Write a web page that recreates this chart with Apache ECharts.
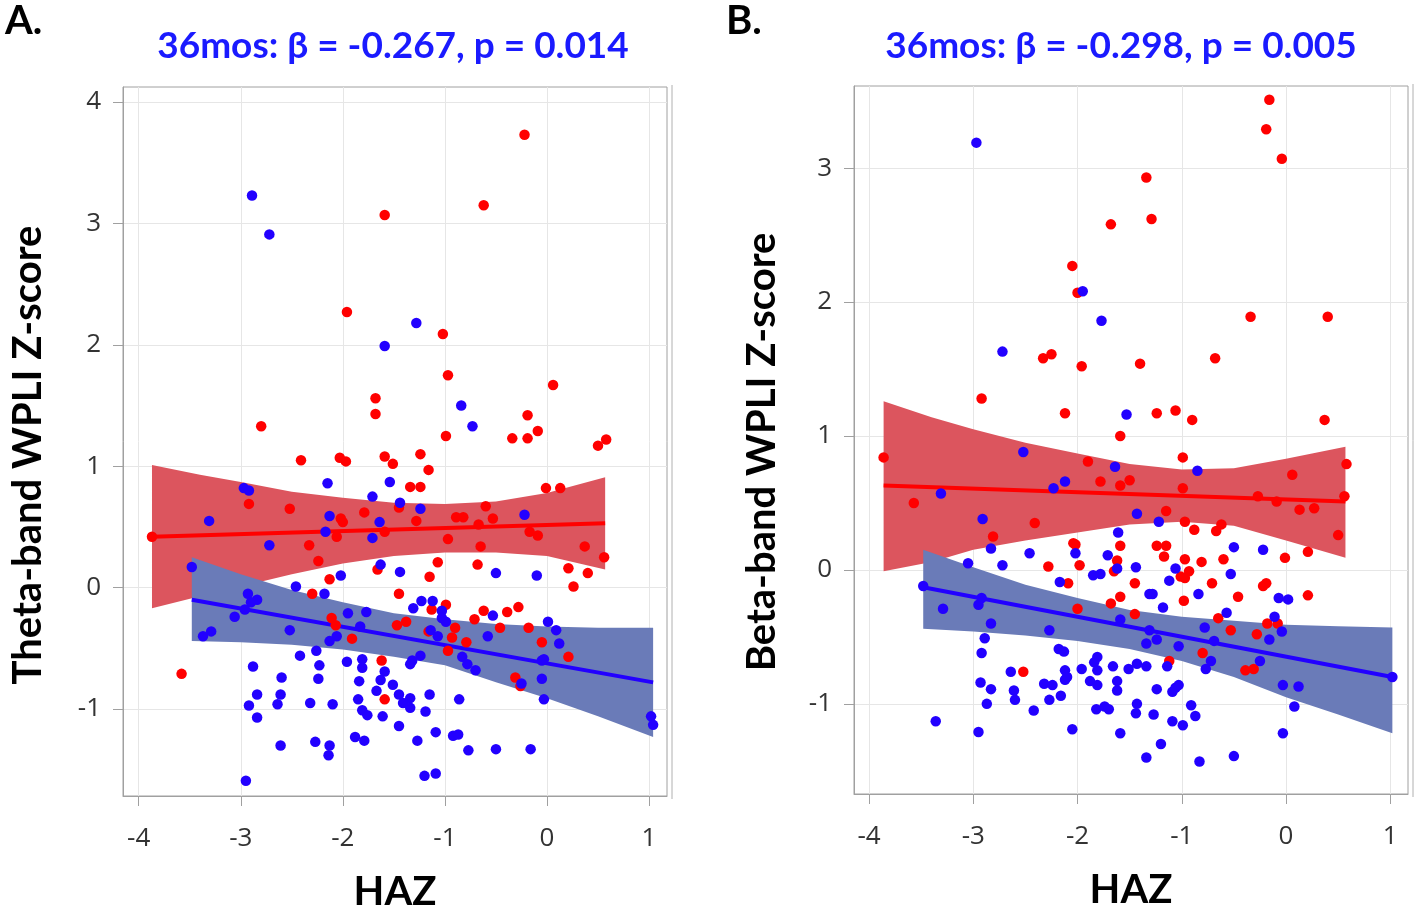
<!DOCTYPE html>
<html>
<head>
<meta charset="utf-8">
<script src="https://cdn.jsdelivr.net/npm/echarts@6/dist/echarts.min.js"></script>
<style>
html,body{margin:0;padding:0;background:#fff;}
#chart{width:1418px;height:910px;}
</style>
</head>
<body>
<div id="chart"></div>
<script>
// ---------- tick labels ----------
const xTicks = [-4, -3, -2, -1, 0, 1];
const yTicksA = [-1, 0, 1, 2, 3, 4];
const yTicksB = [-1, 0, 1, 2, 3];

// ---------- Panel A (theta) points ----------
const redA = [
 [-1.59,3.07],[-1.96,2.27],[-1.68,1.56],[-1.68,1.43],[-2.80,1.33],
 [-0.22,3.73],[-0.62,3.15],[-1.02,2.09],[-0.97,1.75],[0.06,1.67],[-0.19,1.42],[-0.09,1.29],[-0.99,1.25],[-0.34,1.23],[-0.19,1.23],[0.50,1.17],[0.58,1.22],
 [-2.41,1.05],[-2.03,1.07],[-1.97,1.04],[-1.59,1.08],[-1.51,1.02],
 [-2.92,0.69],[-2.52,0.65],[-1.79,0.62],[-1.45,0.66],[-2.02,0.57],[-2.00,0.54],[-3.87,0.42],[-2.06,0.42],[-1.59,0.46],[-2.33,0.35],[-2.24,0.22],[-1.66,0.15],[-2.13,0.07],[-2.30,-0.05],[-1.45,-0.05],[-2.11,-0.25],[-2.07,-0.31],[-1.47,-0.31],[-1.91,-0.42],[-1.62,-0.60],[-3.58,-0.71],[-1.59,-0.92],
 [-1.24,1.10],[-1.16,0.97],[-1.34,0.83],[-1.24,0.83],[-1.28,0.55],[-0.01,0.82],[0.13,0.82],[-0.60,0.67],[-0.89,0.58],[-0.82,0.58],[-0.53,0.57],[-0.67,0.52],[-0.17,0.46],[-0.09,0.43],[-0.97,0.40],[-0.65,0.34],[0.37,0.34],[0.56,0.25],[-1.07,0.21],[-0.68,0.19],[0.21,0.16],[0.40,0.12],[-1.15,0.09],[0.26,0.01],[-1.13,-0.18],[-0.99,-0.14],[-0.62,-0.19],[-0.39,-0.20],[-0.28,-0.16],[-0.71,-0.26],[-0.46,-0.33],[-0.18,-0.33],[-1.38,-0.28],[-1.16,-0.36],[-0.90,-0.33],[-0.93,-0.41],[-0.79,-0.45],[-0.97,-0.52],[-0.05,-0.45],[0.21,-0.57],[-0.31,-0.74],[-0.26,-0.81]
];
const blueA = [
 [-2.89,3.23],[-2.72,2.91],[-1.59,1.99],[-1.28,2.18],[-0.84,1.50],[-0.73,1.33],
 [-2.15,0.86],[-1.54,0.87],[-1.71,0.75],[-1.44,0.70],[-2.97,0.82],[-2.92,0.80],[-2.13,0.59],[-1.64,0.54],[-3.31,0.55],[-2.17,0.46],[-1.71,0.41],[-2.72,0.35],[-1.63,0.19],[-1.44,0.13],[-3.48,0.17],[-2.02,0.10],[-2.46,0.01],[-2.18,-0.05],[-2.93,-0.05],[-2.84,-0.10],[-2.90,-0.12],[-2.96,-0.18],[-3.06,-0.24],[-3.29,-0.36],[-3.37,-0.40],[-2.52,-0.35],[-1.95,-0.21],[-1.77,-0.20],[-1.83,-0.32],[-2.06,-0.40],[-2.13,-0.44],[-2.42,-0.56],[-2.26,-0.52],[-2.23,-0.64],[-1.96,-0.61],[-1.81,-0.59],[-1.81,-0.66],[-2.88,-0.65],[-2.60,-0.74],[-2.24,-0.75],[-1.84,-0.77],[-1.59,-0.69],[-1.63,-0.76],[-1.51,-0.80],[-1.67,-0.85],[-1.45,-0.88],[-2.84,-0.88],[-2.92,-0.97],[-2.61,-0.88],[-2.64,-0.96],[-2.32,-0.95],[-2.10,-0.96],[-1.85,-0.92],[-2.84,-1.07],[-1.81,-1.01],[-1.76,-1.05],[-1.61,-1.06],[-1.45,-1.14],[-2.61,-1.30],[-2.27,-1.27],[-2.13,-1.30],[-2.14,-1.38],[-1.88,-1.23],[-1.79,-1.26],[-2.95,-1.59],
 [-1.24,0.65],[-0.22,0.60],[-0.50,0.12],[-0.10,0.10],[-1.31,-0.17],[-1.23,-0.11],[-1.12,-0.11],[-1.03,-0.19],[-1.03,-0.25],[-0.99,-0.28],[-0.53,-0.23],[0.01,-0.28],[0.09,-0.35],[-1.14,-0.35],[-1.07,-0.40],[-0.58,-0.40],[0.12,-0.46],[-0.05,-0.60],[-0.03,-0.59],[-1.24,-0.56],[-1.32,-0.60],[-1.34,-0.63],[-0.83,-0.57],[-0.78,-0.63],[-0.70,-0.68],[-0.25,-0.79],[-0.05,-0.75],[-0.03,-0.92],[-1.34,-0.91],[-1.41,-0.95],[-1.34,-0.99],[-1.15,-0.88],[-1.19,-1.02],[-0.86,-0.92],[-1.27,-1.26],[-1.09,-1.19],[-0.92,-1.22],[-0.87,-1.21],[-0.77,-1.34],[-0.50,-1.33],[-0.16,-1.33],[-1.20,-1.55],[-1.09,-1.53],[1.02,-1.06],[1.04,-1.13]
];
const redLineA = [[-3.87,0.42],[0.57,0.53]];
const blueLineA = [[-3.48,-0.10],[1.04,-0.78]];
const redBandAx  = [-3.87,-3.4,-3,-2.5,-2,-1.5,-1,-0.5,0,0.57];
const redBandAhi = [1.01,0.93,0.87,0.79,0.74,0.70,0.69,0.71,0.78,0.91];
const redBandAlo = [-0.17,-0.07,0.01,0.11,0.20,0.26,0.29,0.29,0.26,0.15];
const blueBandAx  = [-3.48,-3,-2.5,-2,-1.5,-1,-0.5,0,0.5,1.04];
const blueBandAhi = [0.25,0.11,-0.02,-0.12,-0.21,-0.26,-0.30,-0.32,-0.33,-0.33];
const blueBandAlo = [-0.44,-0.45,-0.47,-0.51,-0.57,-0.64,-0.78,-0.91,-1.06,-1.23];

// ---------- Panel B (beta) points ----------
const redB = [
 [-1.68,2.58],[-2.05,2.27],[-2.00,2.07],[-2.33,1.58],[-2.25,1.61],[-1.96,1.52],[-1.40,1.54],[-2.92,1.28],[-2.12,1.17],[-1.59,1.00],
 [-0.16,3.51],[-0.19,3.29],[-0.04,3.07],[-1.34,2.93],[-1.29,2.62],[-0.34,1.89],[0.40,1.89],[-0.68,1.58],[-1.24,1.17],[-1.06,1.19],[-0.90,1.12],[0.37,1.12],
 [-3.86,0.84],[-1.90,0.81],[-1.78,0.66],[-1.59,0.63],[-1.50,0.67],[-3.57,0.50],[-2.41,0.35],[-2.81,0.25],[-2.04,0.20],[-2.02,0.19],[-1.59,0.18],[-2.28,0.025],[-1.98,0.035],[-1.62,0.07],[-1.65,-0.01],[-2.09,-0.10],[-1.45,-0.10],[-1.59,-0.20],[-1.68,-0.25],[-2.00,-0.29],[-1.45,-0.33],[-2.52,-0.76],
 [-0.99,0.84],[-0.99,0.61],[0.06,0.71],[0.58,0.79],[-0.27,0.55],[-0.09,0.51],[0.13,0.45],[0.27,0.46],[0.56,0.55],[-1.15,0.44],[-0.97,0.36],[-0.88,0.30],[-0.67,0.29],[-0.62,0.34],[0.50,0.26],[-1.24,0.18],[-1.15,0.18],[-1.17,0.10],[-0.97,0.08],[-0.81,0.06],[-0.60,0.08],[-0.01,0.09],[0.21,0.135],[-1.01,-0.05],[-0.97,-0.06],[-0.93,-0.01],[-0.71,-0.10],[-0.22,-0.12],[-0.19,-0.10],[-0.46,-0.20],[-0.98,-0.23],[0.21,-0.19],[-0.65,-0.36],[-0.18,-0.40],[-0.08,-0.40],[-0.53,-0.45],[-0.28,-0.48],[-0.80,-0.62],[-1.12,-0.68],[-0.39,-0.75],[-0.31,-0.74]
];
const blueB = [
 [-2.97,3.19],[-1.95,2.08],[-1.77,1.86],[-2.72,1.63],[-1.53,1.16],
 [-2.52,0.88],[-1.64,0.77],[-2.12,0.66],[-2.23,0.61],[-3.31,0.57],[-2.91,0.38],[-1.43,0.42],[-1.61,0.28],[-2.83,0.16],[-2.02,0.125],[-2.46,0.125],[-1.71,0.11],[-3.05,0.05],[-2.72,0.035],[-1.62,0.01],[-1.44,0.02],[-1.85,-0.04],[-1.78,-0.03],[-2.17,-0.09],[-3.48,-0.12],[-2.92,-0.21],[-2.95,-0.26],[-3.29,-0.29],[-1.59,-0.37],[-2.83,-0.40],[-2.27,-0.45],[-2.89,-0.51],[-2.92,-0.62],[-2.18,-0.59],[-2.13,-0.61],[-1.81,-0.65],[-1.84,-0.69],[-1.81,-0.75],[-1.66,-0.72],[-1.51,-0.74],[-1.43,-0.70],[-1.96,-0.74],[-2.12,-0.75],[-2.10,-0.80],[-2.12,-0.82],[-2.64,-0.76],[-2.93,-0.84],[-2.83,-0.89],[-2.87,-1.00],[-2.61,-0.90],[-2.60,-0.97],[-2.32,-0.85],[-2.24,-0.86],[-2.27,-0.97],[-2.16,-0.94],[-1.88,-0.83],[-1.81,-0.86],[-1.62,-0.83],[-1.62,-0.90],[-2.42,-1.05],[-1.82,-1.04],[-1.74,-1.02],[-1.70,-1.04],[-1.43,-1.00],[-1.44,-1.07],[-3.36,-1.13],[-2.95,-1.21],[-2.05,-1.19],[-1.59,-1.22],
 [-0.85,0.74],[-1.22,0.36],[-0.50,0.17],[-0.22,0.15],[-1.06,0.01],[-1.12,-0.08],[-0.53,-0.03],[-0.84,-0.18],[-1.31,-0.18],[-1.28,-0.18],[-1.18,-0.28],[-0.07,-0.21],[0.02,-0.22],[-0.57,-0.32],[-0.11,-0.35],[-0.04,-0.46],[-0.78,-0.43],[-0.16,-0.52],[-1.31,-0.45],[-1.24,-0.52],[-1.34,-0.55],[-1.03,-0.57],[-0.69,-0.53],[-0.72,-0.68],[-0.77,-0.74],[-1.14,-0.72],[-1.34,-0.72],[-0.25,-0.68],[1.02,-0.80],[-0.03,-0.86],[0.12,-0.87],[0.08,-1.02],[-0.03,-1.22],[-1.24,-0.89],[-1.09,-0.91],[-1.06,-0.88],[-1.03,-0.86],[-1.27,-1.08],[-0.91,-1.01],[-0.87,-1.09],[-1.09,-1.13],[-0.99,-1.16],[-1.20,-1.30],[-1.34,-1.40],[-0.83,-1.43],[-0.50,-1.39]
];
const redLineB = [[-3.86,0.63],[0.57,0.51]];
const blueLineB = [[-3.48,-0.13],[1.02,-0.80]];
const redBandBx  = [-3.86,-3.4,-3,-2.5,-2,-1.5,-1,-0.5,0,0.57];
const redBandBhi = [1.26,1.14,1.05,0.95,0.87,0.79,0.75,0.76,0.83,0.92];
const redBandBlo = [-0.01,0.06,0.15,0.22,0.28,0.34,0.36,0.33,0.22,0.09];
const blueBandBx  = [-3.48,-3,-2.5,-2,-1.5,-1,-0.5,0,0.5,1.02];
const blueBandBhi = [0.15,0.02,-0.11,-0.21,-0.30,-0.35,-0.38,-0.41,-0.42,-0.43];
const blueBandBlo = [-0.44,-0.46,-0.49,-0.53,-0.59,-0.68,-0.80,-0.95,-1.08,-1.22];

// ---------- styling ----------
const RED = '#ff0000', BLUE = '#2200ff';
const RED_BAND = '#dc555e', BLUE_BAND = '#6a7bb8';
const GRID_C = '#e6e6e6', AXIS_C = '#a0a0a0';
const TITLE_C = '#1a1aff';

const chart = echarts.init(document.getElementById('chart'), null, {renderer: 'canvas'});

function xAxisCfg(gi, min, max) {
  return {
    gridIndex: gi, type: 'value', min: min, max: max,
    axisLine: {show: true, onZero: false, lineStyle: {color: AXIS_C, width: 1}},
    axisTick: {show: true, length: 10, customValues: xTicks, lineStyle: {color: AXIS_C}},
    axisLabel: {customValues: xTicks, margin: 30, fontFamily: 'Open Sans', fontSize: 26, color: '#333'},
    splitLine: {show: true, lineStyle: {color: GRID_C, width: 1}},
    name: 'HAZ', nameLocation: 'middle', nameGap: 76,
    nameTextStyle: {fontFamily: 'Lato', fontWeight: 'bold', fontSize: 40, color: '#000'}
  };
}
function yAxisCfg(gi, min, max, ticks) {
  return {
    gridIndex: gi, type: 'value', min: min, max: max,
    axisLine: {show: true, onZero: false, lineStyle: {color: AXIS_C, width: 1}},
    axisTick: {show: true, length: 10, customValues: ticks, lineStyle: {color: AXIS_C}},
    axisLabel: {customValues: ticks, margin: 22, fontFamily: 'Open Sans', fontSize: 26, color: '#333'},
    splitLine: {show: true, lineStyle: {color: GRID_C, width: 1}}
  };
}
function bandSeries(gi, xs, lo, hi, color, z) {
  return {
    type: 'custom', xAxisIndex: gi, yAxisIndex: gi, z: z, silent: true,
    data: xs.map((x, i) => [x, lo[i], hi[i]]),
    encode: {x: 0, y: [1, 2]},
    renderItem: function (params, api) {
      if (params.dataIndex !== 0) return null;
      const pts = [];
      for (let i = 0; i < xs.length; i++) pts.push(api.coord([xs[i], hi[i]]));
      for (let i = xs.length - 1; i >= 0; i--) pts.push(api.coord([xs[i], lo[i]]));
      return {type: 'polygon', shape: {points: pts}, style: {fill: color}};
    }
  };
}
function lineSeries(gi, data, color) {
  return {type: 'line', xAxisIndex: gi, yAxisIndex: gi, data: data, showSymbol: false, z: 4,
          lineStyle: {color: color, width: 4}, silent: true};
}
function pointSeries(gi, data, color) {
  return {type: 'scatter', xAxisIndex: gi, yAxisIndex: gi, data: data, symbolSize: 10.5, z: 5,
          itemStyle: {color: color, opacity: 1}, silent: true};
}

const option = {
  animation: false,
  backgroundColor: '#ffffff',
  title: [
    {text: 'A.', left: 0, top: -4, textStyle: {fontFamily: 'Lato', fontWeight: 'bold', fontSize: 40, color: '#000'}},
    {text: 'B.', left: 721, top: -4, textStyle: {fontFamily: 'Lato', fontWeight: 'bold', fontSize: 40, color: '#000'}},
    {text: '36mos: \u03b2 = -0.267, p = 0.014', left: 388, top: 23, textAlign: 'center',
     textStyle: {fontFamily: 'Lato', fontWeight: 'bold', fontSize: 37, color: TITLE_C}},
    {text: '36mos: \u03b2 = -0.298, p = 0.005', left: 1116, top: 23, textAlign: 'center',
     textStyle: {fontFamily: 'Lato', fontWeight: 'bold', fontSize: 37, color: TITLE_C}}
  ],
  grid: [
    {left: 123, top: 87, width: 544, height: 709, show: true, borderColor: AXIS_C, borderWidth: 1,
     backgroundColor: '#fff', outerBoundsMode: 'none', containLabel: false},
    {left: 854, top: 86, width: 554, height: 708, show: true, borderColor: AXIS_C, borderWidth: 1,
     backgroundColor: '#fff', outerBoundsMode: 'none', containLabel: false}
  ],
  xAxis: [xAxisCfg(0, -4.154, 1.176), xAxisCfg(1, -4.144, 1.17)],
  yAxis: [yAxisCfg(0, -1.716, 4.124, yTicksA), yAxisCfg(1, -1.673, 3.613, yTicksB)],
  graphic: [
    {type: 'text', x: 28, y: 455, rotation: Math.PI / 2,
     style: {text: 'Theta-band WPLI Z-score', fontFamily: 'Lato', fontWeight: 'bold', fontSize: 40, fill: '#000',
             textAlign: 'center', textVerticalAlign: 'middle'}},
    {type: 'text', x: 762, y: 452, rotation: Math.PI / 2,
     style: {text: 'Beta-band WPLI Z-score', fontFamily: 'Lato', fontWeight: 'bold', fontSize: 40, fill: '#000',
             textAlign: 'center', textVerticalAlign: 'middle'}},
    {type: 'line', shape: {x1: 672, y1: 85, x2: 672, y2: 799}, style: {stroke: '#b0b0b0', lineWidth: 1}},
    {type: 'line', shape: {x1: 1413, y1: 84, x2: 1413, y2: 797}, style: {stroke: '#b0b0b0', lineWidth: 1}}
  ],
  series: [
    bandSeries(0, redBandAx, redBandAlo, redBandAhi, RED_BAND, 1),
    bandSeries(0, blueBandAx, blueBandAlo, blueBandAhi, BLUE_BAND, 2),
    pointSeries(0, redA, RED),
    pointSeries(0, blueA, BLUE),
    lineSeries(0, redLineA, RED),
    lineSeries(0, blueLineA, BLUE),
    bandSeries(1, redBandBx, redBandBlo, redBandBhi, RED_BAND, 1),
    bandSeries(1, blueBandBx, blueBandBlo, blueBandBhi, BLUE_BAND, 2),
    pointSeries(1, redB, RED),
    pointSeries(1, blueB, BLUE),
    lineSeries(1, redLineB, RED),
    lineSeries(1, blueLineB, BLUE)
  ]
};
chart.setOption(option);
</script>
</body>
</html>
